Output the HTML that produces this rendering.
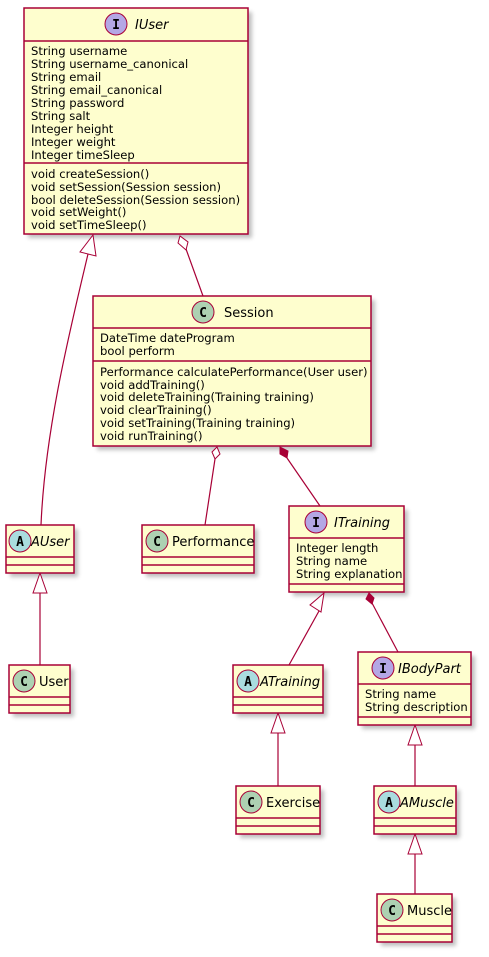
<!DOCTYPE html>
<html><head><meta charset="utf-8"><style>
html,body{margin:0;padding:0;background:#fff;}
svg text{font-family:"DejaVu Sans","Liberation Sans",sans-serif;font-size:11.6px;fill:#000;}
.t{font-size:13px;}
.i{font-style:italic;}
.b{fill:#FEFECE;stroke:#A80036;stroke-width:1.5;}
.s{fill:#000;opacity:0.25;}
.l{stroke:#A80036;stroke-width:1.2;fill:none;}
.ln{stroke:#A80036;stroke-width:1.5;}
.w{fill:#fff;stroke:#A80036;stroke-width:1;}
.ic{stroke:#A80036;stroke-width:1;}
svg text.lt{font-weight:bold;font-size:13px;font-family:"DejaVu Sans Mono","Liberation Mono",monospace;}
</style></head><body>
<svg width="489" height="952" viewBox="0 0 489 952" xmlns="http://www.w3.org/2000/svg">
<defs><filter id="f"><feGaussianBlur stdDeviation="2"/></filter></defs>
<g class="s" filter="url(#f)">
<rect x="28" y="12" width="224" height="226"/>
<rect x="97" y="300" width="278" height="150"/>
<rect x="10" y="529" width="68" height="48"/>
<rect x="146" y="529" width="112" height="48"/>
<rect x="293" y="510" width="115" height="86"/>
<rect x="13" y="669" width="61" height="48"/>
<rect x="237" y="669" width="90" height="48"/>
<rect x="362" y="656" width="113" height="73"/>
<rect x="240" y="790" width="84" height="48"/>
<rect x="378" y="790" width="82" height="48"/>
<rect x="381" y="898" width="75" height="48"/>
</g>
<!-- edges -->
<path class="l" d="M88,254 C70,330 45,430 41,525"/>
<polygon class="w" points="93,235 80,252 96,256"/>
<line class="l" x1="186" y1="249" x2="203" y2="296"/>
<polygon class="w" points="180,236 178,243 186,250 188,242"/>
<line class="l" x1="215" y1="459" x2="205" y2="525"/>
<polygon class="w" points="217,447 212,452 215,459 220,454"/>
<line class="l" x1="287" y1="458" x2="320" y2="506"/>
<polygon points="280,447 280,454 287,458 288,451" fill="#A80036" stroke="#A80036"/>
<line class="l" x1="40" y1="593" x2="40" y2="665"/>
<polygon class="w" points="40,573 33,593 47,593"/>
<line class="l" x1="319" y1="611" x2="289" y2="665"/>
<polygon class="w" points="324,593 310,605 321,612"/>
<line class="l" x1="372" y1="603" x2="398" y2="652"/>
<polygon points="369,593 366,599 372,604 374,598" fill="#A80036" stroke="#A80036"/>
<line class="l" x1="278" y1="733" x2="278" y2="786"/>
<polygon class="w" points="278,713 271,733 285,733"/>
<line class="l" x1="415" y1="745" x2="415" y2="786"/>
<polygon class="w" points="415,725 408,745 422,745"/>
<line class="l" x1="415" y1="854" x2="415" y2="894"/>
<polygon class="w" points="415,834 408,854 422,854"/>

<!-- IUser -->
<rect class="b" x="24" y="8" width="224" height="226"/>
<line class="ln" x1="24" y1="41" x2="248" y2="41"/>
<line class="ln" x1="24" y1="163" x2="248" y2="163"/>
<circle cx="116" cy="24" r="11" fill="#B4A7E5" class="ic"/><text x="116" y="29" text-anchor="middle" class="lt">I</text>
<text x="135" y="29" class="t i">IUser</text>
<g>
<text x="31" y="55">String username</text>
<text x="31" y="68">String username_canonical</text>
<text x="31" y="81">String email</text>
<text x="31" y="94">String email_canonical</text>
<text x="31" y="107">String password</text>
<text x="31" y="120">String salt</text>
<text x="31" y="133">Integer height</text>
<text x="31" y="146">Integer weight</text>
<text x="31" y="159">Integer timeSleep</text>
<text x="31" y="178">void createSession()</text>
<text x="31" y="191">void setSession(Session session)</text>
<text x="31" y="204">bool deleteSession(Session session)</text>
<text x="31" y="216">void setWeight()</text>
<text x="31" y="229">void setTimeSleep()</text>
</g>
<!-- Session -->
<rect class="b" x="93" y="296" width="278" height="150"/>
<line class="ln" x1="93" y1="328" x2="371" y2="328"/>
<line class="ln" x1="93" y1="361" x2="371" y2="361"/>
<circle cx="203" cy="312" r="11" fill="#ADD1B2" class="ic"/><text x="203" y="317" text-anchor="middle" class="lt">C</text>
<text x="224" y="317" class="t">Session</text>
<text x="100" y="342">DateTime dateProgram</text>
<text x="100" y="355">bool perform</text>
<text x="100" y="376">Performance calculatePerformance(User user)</text>
<text x="100" y="389">void addTraining()</text>
<text x="100" y="401">void deleteTraining(Training training)</text>
<text x="100" y="414">void clearTraining()</text>
<text x="100" y="427">void setTraining(Training training)</text>
<text x="100" y="440">void runTraining()</text>
<!-- AUser -->
<rect class="b" x="6" y="525" width="68" height="48"/>
<line class="ln" x1="6" y1="557" x2="74" y2="557"/><line class="ln" x1="6" y1="565" x2="74" y2="565"/>
<circle cx="20" cy="541" r="11" fill="#A9DCDF" class="ic"/><text x="20" y="546" text-anchor="middle" class="lt">A</text>
<text x="31" y="546" class="t i">AUser</text>
<!-- Performance -->
<rect class="b" x="142" y="525" width="112" height="48"/>
<line class="ln" x1="142" y1="557" x2="254" y2="557"/><line class="ln" x1="142" y1="565" x2="254" y2="565"/>
<circle cx="157" cy="541" r="11" fill="#ADD1B2" class="ic"/><text x="157" y="546" text-anchor="middle" class="lt">C</text>
<text x="172" y="546" class="t">Performance</text>
<!-- ITraining -->
<rect class="b" x="289" y="506" width="115" height="86"/>
<line class="ln" x1="289" y1="538" x2="404" y2="538"/><line class="ln" x1="289" y1="584" x2="404" y2="584"/>
<circle cx="316" cy="522" r="11" fill="#B4A7E5" class="ic"/><text x="316" y="527" text-anchor="middle" class="lt">I</text>
<text x="334" y="527" class="t i">ITraining</text>
<text x="296" y="552">Integer length</text>
<text x="296" y="565">String name</text>
<text x="296" y="578">String explanation</text>
<!-- User -->
<rect class="b" x="9" y="665" width="61" height="48"/>
<line class="ln" x1="9" y1="697" x2="70" y2="697"/><line class="ln" x1="9" y1="705" x2="70" y2="705"/>
<circle cx="24" cy="681" r="11" fill="#ADD1B2" class="ic"/><text x="24" y="686" text-anchor="middle" class="lt">C</text>
<text x="39" y="686" class="t">User</text>
<!-- ATraining -->
<rect class="b" x="233" y="665" width="90" height="48"/>
<line class="ln" x1="233" y1="697" x2="323" y2="697"/><line class="ln" x1="233" y1="705" x2="323" y2="705"/>
<circle cx="248" cy="681" r="11" fill="#A9DCDF" class="ic"/><text x="248" y="686" text-anchor="middle" class="lt">A</text>
<text x="260" y="686" class="t i">ATraining</text>
<!-- IBodyPart -->
<rect class="b" x="358" y="652" width="113" height="73"/>
<line class="ln" x1="358" y1="684" x2="471" y2="684"/><line class="ln" x1="358" y1="717" x2="471" y2="717"/>
<circle cx="383" cy="668" r="11" fill="#B4A7E5" class="ic"/><text x="383" y="673" text-anchor="middle" class="lt">I</text>
<text x="398" y="673" class="t i">IBodyPart</text>
<text x="365" y="698">String name</text>
<text x="365" y="711">String description</text>
<!-- Exercise -->
<rect class="b" x="236" y="786" width="84" height="48"/>
<line class="ln" x1="236" y1="818" x2="320" y2="818"/><line class="ln" x1="236" y1="826" x2="320" y2="826"/>
<circle cx="251" cy="802" r="11" fill="#ADD1B2" class="ic"/><text x="251" y="807" text-anchor="middle" class="lt">C</text>
<text x="266" y="807" class="t">Exercise</text>
<!-- AMuscle -->
<rect class="b" x="374" y="786" width="82" height="48"/>
<line class="ln" x1="374" y1="818" x2="456" y2="818"/><line class="ln" x1="374" y1="826" x2="456" y2="826"/>
<circle cx="389" cy="802" r="11" fill="#A9DCDF" class="ic"/><text x="389" y="807" text-anchor="middle" class="lt">A</text>
<text x="400" y="807" class="t i">AMuscle</text>
<!-- Muscle -->
<rect class="b" x="377" y="894" width="75" height="48"/>
<line class="ln" x1="377" y1="926" x2="452" y2="926"/><line class="ln" x1="377" y1="934" x2="452" y2="934"/>
<circle cx="392" cy="910" r="11" fill="#ADD1B2" class="ic"/><text x="392" y="915" text-anchor="middle" class="lt">C</text>
<text x="407" y="915" class="t">Muscle</text>
</svg>
</body></html>
